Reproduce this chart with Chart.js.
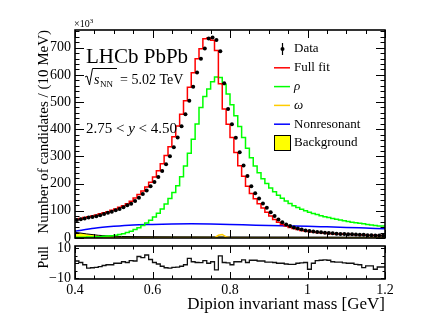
<!DOCTYPE html>
<html>
<head>
<meta charset="utf-8">
<script src="https://cdn.jsdelivr.net/npm/chart.js@4.4.1/dist/chart.umd.min.js"></script>
<style>
  html, body { margin: 0; padding: 0; background: #fff; }
  #wrap { position: relative; width: 426px; height: 324px; }
  #wrap canvas { position: absolute; left: 0; top: 0; }
</style>
</head>
<body>
<div id="wrap">
  <canvas id="mainChart" width="426" height="324"></canvas>
  <canvas id="pullChart" width="426" height="324"></canvas>
</div>
<script>
// 80 bins of 10 MeV between 0.4 and 1.2 GeV, counts in units of 10^3
const massMin = 0.4;
const massMax = 1.2;
const binWidth = 0.01;

const dataCounts = [
  66, 69, 72, 75, 77, 80, 84, 88, 93, 97,
  102, 107, 113, 120, 126, 136, 148, 162, 175, 190,
  206, 224, 246, 271, 301, 334, 370, 411, 455, 505,
  556, 609, 659, 697, 734, 737, 728, 687, 569, 474,
  418, 369, 315, 267, 228, 190, 165, 145, 127, 111,
  95, 81, 68, 58, 50, 44, 39, 35, 31, 28,
  26, 23.5, 22, 21, 19.5, 18.5, 17.5, 16, 15, 14.5,
  14, 13.5, 13, 12, 11.5, 10.5, 10, 9.5, 9, 8.5
];
const fullFit = [
  66, 69, 72, 75, 78, 81, 85, 89, 93, 97,
  102, 107, 113, 119, 126, 135, 147, 160, 173, 188,
  205, 224, 247, 273, 303, 336, 372, 412, 455, 505,
  554, 608, 659, 696, 733, 736, 727, 690, 567, 474,
  418, 370, 314, 266, 227, 190, 164, 144, 126, 110,
  95, 81, 68, 58, 50, 44, 39, 35, 31, 28,
  26, 24, 22, 20.5, 19, 18, 17, 16, 15, 14.5,
  14, 13.5, 13, 12, 11.5, 11, 10.5, 10, 9.5, 9
];
const rhoFit = [
  3, 3, 3, 3, 4, 4, 5, 5, 6, 7,
  8, 10, 13, 16, 20, 25, 31, 38, 46, 55,
  65, 77, 91, 107, 125, 145, 167, 192, 225, 265,
  312, 363, 419, 480, 520, 548, 575, 592, 590, 565,
  530, 490, 450, 410, 370, 330, 295, 265, 240, 218,
  200, 184, 170, 157, 146, 136, 127, 119, 112, 106,
  100, 95, 90, 86, 82, 78, 75, 72, 69, 66,
  63, 61, 58, 56, 54, 52, 50, 48, 46, 44
];
const omegaMass = [0.40, 0.60, 0.76, 0.77, 0.78, 0.79, 0.80, 1.00, 1.20];
const omegaFit  = [0.4, 0.4, 0.6, 10, 13, 4, 0.6, 0.4, 0.4];
const nonresMass = [0.40, 0.45, 0.50, 0.55, 0.60, 0.65, 0.70, 0.75, 0.80, 0.85, 0.90, 0.95, 1.00, 1.05, 1.10, 1.15, 1.20];
const nonresFit  = [25, 36, 43, 48, 50, 51.5, 52, 51.5, 50, 48, 46, 44.5, 43, 41, 39, 36.5, 34];
const bkgMass = [0.40, 0.43, 0.46, 0.49, 0.52, 0.56, 0.65, 0.80, 1.00, 1.20];
const bkgFit  = [21, 15, 10, 7, 5.5, 5, 4.5, 4, 3.5, 3];
const pullValues = [
  3.3, 1.5, 0.5, -1, -3.3, -3, -2.7, -2.3, -1.5, -1,
  -1, 0, 0, 1, 0.5, 1.8, 1.5, 4.5, 3.8, 5.5,
  2.5, 0.5, -0.5, -2, -3, -3.2, -2.8, -2.6, -2, -1,
  3.3, 1, 0.5, 0.4, 1.8, 0, 1, -4.4, 4.9, 0.5,
  0.3, -1, 1, 1, 2.2, 0.5, 2, 2, 1.5, 1.5,
  0.7, 0.7, 0.5, 0, 0, -0.5, -0.7, -0.7, 0, 0.3,
  0.5, -4, 0, 1.8, 2, 2.2, 2, 1, 0.8, 0.7,
  0.3, 0, 0, -0.7, -1, -2.9, -1.8, -1.8, -4, -2.5
];

const xTickValues = [0.4, 0.6, 0.8, 1.0, 1.2];
const xTickLabels = ['0.4', '0.6', '0.8', '1', '1.2'];
const yTickValues = [0, 100, 200, 300, 400, 500, 600, 700];
const pullTickValues = [-10, 0, 10];
const legendLabels = ['Data', 'Full fit', 'ρ', 'ω', 'Nonresonant', 'Background'];

const SERIF = "'Liberation Serif', 'DejaVu Serif', serif";
const RED = '#ff0000', GREEN = '#00ff00', ORANGE = '#ffcc00', BLUE = '#0000ff', YELLOW = '#ffff00';

const binEdges = fullFit.map((_, i) => +(massMin + i * binWidth).toFixed(3)).concat([massMax]);
const binCentres = fullFit.map((_, i) => +(massMin + (i + 0.5) * binWidth).toFixed(4));

function toSteps(values) {
  const pts = values.map((v, i) => ({ x: binEdges[i], y: v }));
  pts.push({ x: binEdges[values.length], y: values[values.length - 1] });
  return pts;
}
function toPoints(xs, ys) {
  return xs.map((x, i) => ({ x: x, y: ys[i] }));
}
function minusLabel(v) {
  return v < 0 ? '\u2212' + Math.abs(v) : String(v);
}

// inward ROOT-style ticks on all four sides plus the frame
const frameTicks = {
  id: 'frameTicks',
  afterDatasetsDraw(chart, args, o) {
    const { ctx, chartArea: a, scales: { x, y } } = chart;
    ctx.save();
    ctx.strokeStyle = '#000';
    ctx.lineWidth = 1;
    ctx.beginPath();
    const nx = Math.round((x.max - x.min) / o.xStep);
    for (let i = 0; i <= nx; i++) {
      const px = Math.round(x.getPixelForValue(x.min + i * o.xStep)) + 0.5;
      const len = i % o.xEvery === 0 ? o.xMajor : o.xMinor;
      ctx.moveTo(px, a.bottom); ctx.lineTo(px, a.bottom - len);
      ctx.moveTo(px, a.top); ctx.lineTo(px, a.top + len);
    }
    const ny = Math.floor((o.yEnd - o.yStart) / o.yStep + 1e-6);
    for (let i = 0; i <= ny; i++) {
      const py = Math.round(y.getPixelForValue(o.yStart + i * o.yStep)) + 0.5;
      const len = i % o.yEvery === 0 ? o.yMajor : o.yMinor;
      ctx.moveTo(a.left, py); ctx.lineTo(a.left + len, py);
      ctx.moveTo(a.right, py); ctx.lineTo(a.right - len, py);
    }
    ctx.stroke();
    ctx.lineWidth = 1.6;
    ctx.strokeRect(a.left, a.top, a.right - a.left, a.bottom - a.top);
    ctx.restore();
  }
};

// labels and legend of the upper panel
const mainText = {
  id: 'mainText',
  afterDraw(chart) {
    const { ctx, chartArea: a } = chart;
    ctx.save();
    ctx.fillStyle = '#000';
    ctx.textAlign = 'left';
    ctx.textBaseline = 'alphabetic';

    ctx.font = `10px ${SERIF}`;
    ctx.fillText('\u00d710', a.left - 1, 27);
    const w10 = ctx.measureText('\u00d710').width;
    ctx.font = `7px ${SERIF}`;
    ctx.fillText('3', a.left - 1 + w10, 22.5);

    ctx.font = `21px ${SERIF}`;
    ctx.fillText('LHCb PbPb', a.left + 11, 63);

    // sqrt(s_NN) = 5.02 TeV
    const rx = a.left + 10, base = 84;
    ctx.strokeStyle = '#000';
    ctx.lineWidth = 1;
    ctx.beginPath();
    ctx.moveTo(rx, base - 7);
    ctx.lineTo(rx + 2, base - 8);
    ctx.lineTo(rx + 4.5, base + 1);
    ctx.lineTo(rx + 7.5, base - 15.5);
    ctx.lineTo(rx + 32, base - 15.5);
    ctx.stroke();
    ctx.font = `italic 14px ${SERIF}`;
    ctx.fillText('s', rx + 9, base);
    const ws = ctx.measureText('s').width;
    ctx.font = `9px ${SERIF}`;
    ctx.fillText('NN', rx + 9 + ws + 0.5, base + 3);
    ctx.font = `14px ${SERIF}`;
    ctx.fillText('= 5.02 TeV', rx + 35, base);

    // rapidity range
    let tx = a.left + 11;
    const yb = 133;
    const parts = [['2.75 < ', ''], ['y', 'italic '], [' < 4.50', '']];
    parts.forEach(([t, st]) => {
      ctx.font = `${st}15px ${SERIF}`;
      ctx.fillText(t, tx, yb);
      tx += ctx.measureText(t).width;
    });

    // legend
    const lx0 = 274, lx1 = 290, textX = 294, rowTop = 49, rowGap = 18.8;
    ctx.textBaseline = 'middle';
    legendLabels.forEach((label, i) => {
      const cy = rowTop + i * rowGap;
      if (i === 0) {
        ctx.beginPath();
        ctx.lineWidth = 1.2;
        ctx.moveTo(282.5, cy - 6); ctx.lineTo(282.5, cy + 6);
        ctx.stroke();
        ctx.beginPath();
        ctx.arc(282.5, cy, 2, 0, Math.PI * 2);
        ctx.fill();
      } else if (i === 5) {
        ctx.fillStyle = YELLOW;
        ctx.fillRect(274.5, cy - 7.5, 16, 15);
        ctx.strokeStyle = '#000';
        ctx.lineWidth = 1;
        ctx.strokeRect(274.5, cy - 7.5, 16, 15);
        ctx.fillStyle = '#000';
      } else {
        ctx.beginPath();
        ctx.strokeStyle = [null, RED, GREEN, ORANGE, BLUE][i];
        ctx.lineWidth = 1.5;
        ctx.moveTo(lx0, cy); ctx.lineTo(lx1, cy);
        ctx.stroke();
        ctx.strokeStyle = '#000';
      }
      ctx.font = (i === 2 || i === 3 ? 'italic ' : '') + `13px ${SERIF}`;
      ctx.fillText(label, textX, cy);
    });
    ctx.restore();
  }
};

const tickFont = { family: SERIF, size: 14 };

new Chart(document.getElementById('mainChart'), {
  type: 'line',
  data: {
    datasets: [
      { label: 'Data', data: toPoints(binCentres, dataCounts), showLine: false,
        pointRadius: 2, pointBackgroundColor: '#000', pointBorderWidth: 0, order: 0 },
      { label: 'Full fit', data: toSteps(fullFit), stepped: 'after',
        borderColor: RED, borderWidth: 1.5, pointRadius: 0, order: 1 },
      { label: 'rho', data: toSteps(rhoFit), stepped: 'after',
        borderColor: GREEN, borderWidth: 1.5, pointRadius: 0, order: 2 },
      { label: 'Nonresonant', data: toPoints(nonresMass, nonresFit), tension: 0.4,
        cubicInterpolationMode: 'monotone', borderColor: BLUE, borderWidth: 1.5, pointRadius: 0, order: 3 },
      { label: 'omega', data: toPoints(omegaMass, omegaFit),
        borderColor: ORANGE, borderWidth: 1.5, pointRadius: 0, order: 4 },
      { label: 'Background', data: toPoints(bkgMass, bkgFit), tension: 0.4,
        cubicInterpolationMode: 'monotone', fill: 'origin', backgroundColor: YELLOW,
        borderColor: '#000', borderWidth: 1, pointRadius: 0, order: 5 }
    ]
  },
  options: {
    responsive: false,
    animation: false,
    devicePixelRatio: 1,
    layout: { padding: { left: 0, top: 30, right: 41, bottom: 86 } },
    plugins: {
      legend: { display: false },
      tooltip: { enabled: false },
      frameTicks: { xStep: 0.05, xEvery: 4, xMajor: 8, xMinor: 4,
                    yStart: 0, yEnd: 765, yStep: 20, yEvery: 5, yMajor: 9, yMinor: 4.5 }
    },
    scales: {
      x: { type: 'linear', min: massMin, max: massMax, display: false },
      y: {
        type: 'linear', min: 0, max: 765,
        afterBuildTicks: (s) => { s.ticks = yTickValues.map(v => ({ value: v })); },
        afterFit: (s) => { s.width = 75; },
        grid: { display: false, drawTicks: false },
        border: { display: false },
        ticks: { font: tickFont, color: '#000', padding: 4, callback: (v) => String(v) },
        title: { display: true, text: 'Number of candidates / (10 MeV)', align: 'end',
                 color: '#000', font: { family: SERIF, size: 15 }, padding: { top: 35, bottom: 0 } }
      }
    }
  },
  plugins: [frameTicks, mainText]
});

new Chart(document.getElementById('pullChart'), {
  type: 'line',
  data: {
    datasets: [
      { label: 'Pull', data: toSteps(pullValues), stepped: 'after',
        borderColor: '#111', borderWidth: 1.3, pointRadius: 0 }
    ]
  },
  options: {
    responsive: false,
    animation: false,
    devicePixelRatio: 1,
    layout: { padding: { left: 0, top: 246, right: 41, bottom: 0 } },
    plugins: {
      legend: { display: false },
      tooltip: { enabled: false },
      frameTicks: { xStep: 0.05, xEvery: 4, xMajor: 7, xMinor: 3.5,
                    yStart: -10, yEnd: 10, yStep: 5, yEvery: 2, yMajor: 4, yMinor: 2.5 }
    },
    scales: {
      x: {
        type: 'linear', min: massMin, max: massMax,
        afterBuildTicks: (s) => { s.ticks = xTickValues.map(v => ({ value: v })); },
        afterFit: (s) => { s.height = 45; },
        grid: { display: false, drawTicks: false },
        border: { display: false },
        ticks: { font: tickFont, color: '#000', padding: 3, maxRotation: 0, autoSkip: false,
                 callback: (v) => xTickLabels[xTickValues.indexOf(v)] },
        title: { display: true, text: 'Dipion invariant mass [GeV]', align: 'end',
                 color: '#000', font: { family: SERIF, size: 17 }, padding: { top: 0, bottom: 9 } }
      },
      y: {
        type: 'linear', min: -10.5, max: 11.5,
        afterBuildTicks: (s) => { s.ticks = pullTickValues.map(v => ({ value: v })); },
        afterFit: (s) => { s.width = 75; },
        grid: { display: false, drawTicks: false },
        border: { display: false },
        ticks: { font: tickFont, color: '#000', padding: 4, callback: minusLabel },
        title: { display: true, text: 'Pull', align: 'end',
                 color: '#000', font: { family: SERIF, size: 14 }, padding: { top: 36, bottom: 0 } }
      }
    }
  },
  plugins: [frameTicks]
});
</script>
</body>
</html>
